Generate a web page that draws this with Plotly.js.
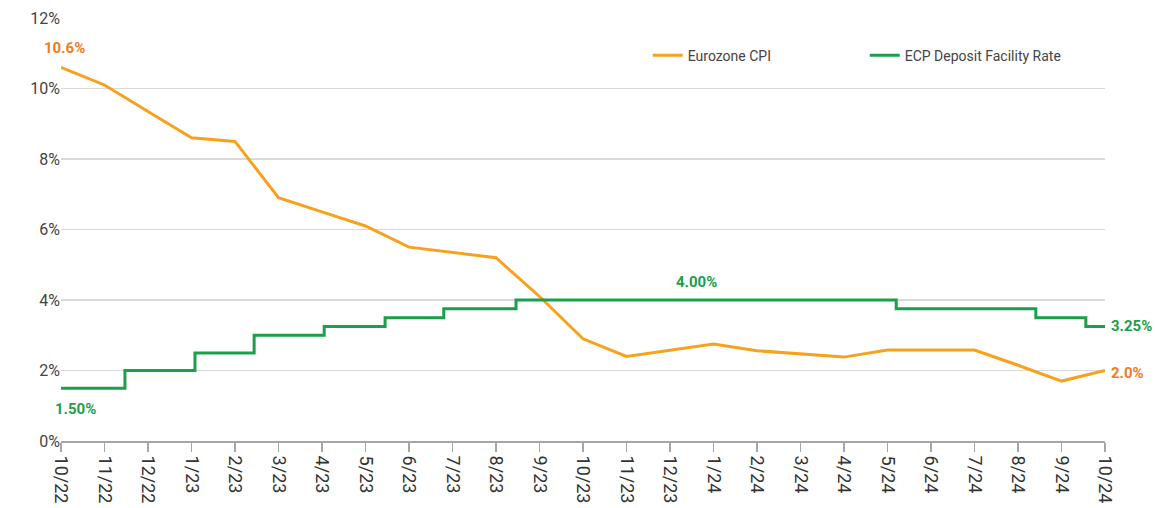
<!DOCTYPE html>
<html>
<head>
<meta charset="utf-8">
<script src="https://cdn.plot.ly/plotly-3.0.1.min.js"></script>
<style>html,body{margin:0;padding:0;background:#fff;}#chart{width:1155px;height:508px;}</style>
</head>
<body>
<div id="chart"></div>
<script>
var monthLabels = ["10/22","11/22","12/22","1/23","2/23","3/23","4/23","5/23","6/23","7/23","8/23","9/23","10/23","11/23","12/23","1/24","2/24","3/24","4/24","5/24","6/24","7/24","8/24","9/24","10/24"];
var monthIndex = monthLabels.map(function(_, i){ return i; });
var cpiValues = [10.6, 10.1, 9.35, 8.6, 8.5, 6.9, 6.5, 6.1, 5.5, 5.35, 5.2, 4.1, 2.9, 2.4, 2.57, 2.75, 2.56, 2.47, 2.38, 2.58, 2.58, 2.58, 2.15, 1.7, 2.0];
var rateChangeAt = [0, 1.47, 3.08, 4.44, 6.05, 7.45, 8.80, 10.46, 19.2, 22.41, 23.56, 24];
var rateValues = [1.5, 2.0, 2.5, 3.0, 3.25, 3.5, 3.75, 4.0, 3.75, 3.5, 3.25, 3.25];
var yTicks = [0, 2, 4, 6, 8, 10, 12];

var FONT = 'Roboto, "Liberation Sans", sans-serif';
var ORANGE_LINE = '#F7A11C';
var ORANGE_TXT = '#F37A22';
var GREEN = '#19A04B';

var traces = [
  {x: monthIndex, y: cpiValues, name: 'Eurozone CPI', type: 'scatter', mode: 'lines',
   line: {color: ORANGE_LINE, width: 3}},
  {x: rateChangeAt, y: rateValues, name: 'ECP Deposit Facility Rate', type: 'scatter', mode: 'lines',
   line: {color: GREEN, width: 3, shape: 'hv'}}
];

var lastI = monthIndex.length - 1;
var layout = {
  width: 1155, height: 508,
  margin: {l: 61, r: 50, t: 18, b: 67},
  paper_bgcolor: '#fff', plot_bgcolor: '#fff',
  font: {family: FONT, size: 16, color: '#555'},
  showlegend: true,
  legend: {orientation: 'h', x: 0.562, y: 0.911, xanchor: 'left', yanchor: 'middle',
           font: {family: FONT, size: 14, color: '#444'}, entrywidth: 172, entrywidthmode: 'pixels',
           bgcolor: 'rgba(0,0,0,0)'},
  xaxis: {range: [0, 24], tickvals: monthIndex, ticktext: monthLabels, tickangle: 90,
          showgrid: false, zeroline: false, showline: true, linecolor: '#a6a6a6', linewidth: 2,
          ticks: 'outside', ticklen: 9, tickwidth: 1.5, tickcolor: '#a6a6a6', fixedrange: true,
          automargin: false, tickfont: {family: FONT, size: 18, color: '#333'}},
  yaxis: {range: [0, 12], tickvals: yTicks, ticktext: yTicks.map(function(v){return v + '%';}),
          showgrid: true, gridcolor: '#d9d9d9', gridwidth: 1.5, zeroline: false, showline: false,
          ticks: '', ticklen: 0, fixedrange: true, automargin: false,
          tickfont: {family: FONT, size: 16, color: '#444'}},
  annotations: [
    {x: 0, y: cpiValues[0], xref: 'x', yref: 'y', text: '<b>' + cpiValues[0].toFixed(1) + '%</b>', showarrow: false,
     xanchor: 'center', yanchor: 'middle', xshift: 3, yshift: 19, font: {family: FONT, size: 15, color: ORANGE_TXT}},
    {x: 0, y: rateValues[0], xref: 'x', yref: 'y', text: '<b>' + rateValues[0].toFixed(2) + '%</b>', showarrow: false,
     xanchor: 'center', yanchor: 'middle', xshift: 14, yshift: -21, font: {family: FONT, size: 15, color: GREEN}},
    {x: 14.6, y: rateValues[7], xref: 'x', yref: 'y', text: '<b>' + rateValues[7].toFixed(2) + '%</b>', showarrow: false,
     xanchor: 'center', yanchor: 'middle', yshift: 18, font: {family: FONT, size: 15, color: GREEN}},
    {x: 24, y: rateValues[rateValues.length - 1], xref: 'x', yref: 'y', text: '<b>' + rateValues[rateValues.length - 1].toFixed(2) + '%</b>', showarrow: false,
     xanchor: 'left', yanchor: 'middle', xshift: 4, font: {family: FONT, size: 15, color: GREEN}},
    {x: 24, y: cpiValues[lastI], xref: 'x', yref: 'y', text: '<b>' + cpiValues[lastI].toFixed(1) + '%</b>', showarrow: false,
     xanchor: 'left', yanchor: 'middle', xshift: 4, yshift: -2, font: {family: FONT, size: 15, color: ORANGE_TXT}}
  ]
};

Plotly.newPlot('chart', traces, layout, {displayModeBar: false, staticPlot: true});
</script>
</body>
</html>
